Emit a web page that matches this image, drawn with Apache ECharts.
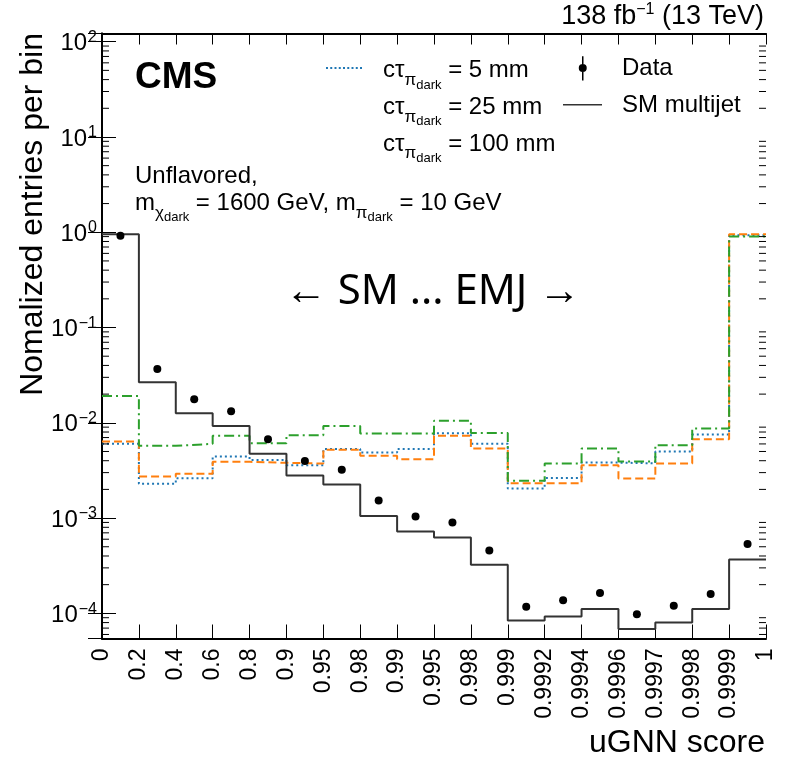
<!DOCTYPE html>
<html><head><meta charset="utf-8">
<script src="https://cdn.jsdelivr.net/npm/echarts@6/dist/echarts.min.js"></script>
<style>html,body{margin:0;padding:0;background:#fff}#c{width:785px;height:763px}</style>
</head><body><div id="c"></div>
<script>
// ---- data ----
const binEdges = ['0','0.2','0.4','0.6','0.8','0.9','0.95','0.98','0.99','0.995','0.998','0.999','0.9992','0.9994','0.9996','0.9997','0.9998','0.9999','1'];
const smMultijet = [0.95, 0.0267, 0.0126, 0.00927, 0.00472, 0.00279, 0.00225, 0.00105, 0.000721, 0.000624, 0.000323, 8.4e-5, 9.24e-5, 1.11e-4, 6.83e-5, 8.0e-5, 1.11e-4, 3.67e-4];
const dataPoints = [0.92, 0.0368, 0.0177, 0.01325, 0.00673, 0.00398, 0.00321, 0.00153, 0.00104, 0.000897, 0.000456, 1.17e-4, 1.37e-4, 1.64e-4, 9.8e-5, 1.2e-4, 1.6e-4, 5.36e-4];
const ct5mm = [0.00601, 0.00229, 0.00262, 0.00442, 0.00408, 0.00359, 0.00532, 0.00487, 0.00532, 0.00778, 0.00601, 0.00204, 0.00264, 0.00382, 0.00375, 0.00499, 0.00752, 0.93];
const ct25mm = [0.00635, 0.00273, 0.00291, 0.00389, 0.0038, 0.00373, 0.0052, 0.0045, 0.00415, 0.00729, 0.00536, 0.00232, 0.00232, 0.00359, 0.0026, 0.00375, 0.00673, 0.95];
const ct100mm = [0.0191, 0.00573, 0.00601, 0.00729, 0.0061, 0.00741, 0.00927, 0.0077, 0.0077, 0.0105, 0.00783, 0.00247, 0.00375, 0.00536, 0.00392, 0.00582, 0.00869, 0.90];
const yMin = Math.pow(10, -4.264), yMax = Math.pow(10, 2.086);

// ---- helpers ----
const FONT = 'Liberation Sans';
function stepData(arr) { const out = arr.map((v, i) => [i, v]); out.push([arr.length, arr[arr.length - 1]]); return out; }
const pointData = dataPoints.map((v, i) => [i + 0.5, v]);
const minorVals = [];
for (let n = -5; n <= 2; n++) for (let k = 2; k <= 9; k++) { const v = k * Math.pow(10, n); if (v > yMin && v < yMax) minorVals.push([0, v]); }

const richSub = {
  sp: { width: 16, fontSize: 24, lineHeight: 28, verticalAlign: 'top' },
  sp2: { width: 15, fontSize: 24, lineHeight: 28, verticalAlign: 'top' },
  m: { fontFamily: FONT, fontSize: 24, lineHeight: 28, verticalAlign: 'top', color: '#000' },
  p: { fontFamily: FONT, fontSize: 17, lineHeight: 10, padding: [13.25, 0, 0, 0], verticalAlign: 'top', color: '#000' },
  d: { fontFamily: FONT, fontSize: 13, lineHeight: 8, padding: [19.95, 0, 0, 0], verticalAlign: 'top', color: '#000' }
};
const legendText = {
  ct5: '{sp| }{m|cτ}{p|π}{d|dark}{m| = 5 mm}',
  ct25: '{sp| }{m|cτ}{p|π}{d|dark}{m| = 25 mm}',
  ct100: '{sp| }{m|cτ}{p|π}{d|dark}{m| = 100 mm}',
  data: '{sp2| }{m|Data}',
  sm: '{sp2| }{m|SM multijet}'
};
// legend icon shapes (icon box = text box; text cap centre at 11.8 from the top)
let dotted = 'path://M0,0 M36,33';
for (let x = 0; x < 36; x += 4.3) dotted += ' M' + x.toFixed(1) + ',10.8 h2 v2 h-2 Z';
const dataIcon = 'path://M0,0 M39,28 M19,0 L20.5,0 L20.5,24.3 L19,24.3 Z M23.75,11.8 A4,4 0 1 1 15.75,11.8 A4,4 0 1 1 23.75,11.8 Z';
const smIcon = 'path://M0,0 M39,28 M0,11 L39,11 L39,12.6 L0,12.6 Z';
const hidden = { opacity: 0 };

const axisLineStyle = { show: true, lineStyle: { color: '#000', width: 2 } };
const chart = echarts.init(document.getElementById('c'), null, { renderer: 'canvas' });
chart.setOption({
  animation: false,
  backgroundColor: '#fff',
  textStyle: { fontFamily: FONT },
  grid: { left: 102, top: 33.5, right: 19, bottom: 124.5, containLabel: false, outerBoundsMode: 'none' },
  legend: [
    {
      data: [{ name: 'ct5', icon: dotted }, { name: 'ct25', lineStyle: hidden, itemStyle: hidden }, { name: 'ct100', lineStyle: hidden, itemStyle: hidden }],
      orient: 'vertical', left: 325, top: 56.3, padding: 0, itemGap: 3.7, itemWidth: 36, itemHeight: 33,
      selectedMode: false, formatter: n => legendText[n], textStyle: { rich: richSub }
    },
    {
      data: [{ name: 'data', icon: dataIcon }, { name: 'sm', icon: smIcon }],
      orient: 'vertical', left: 563, top: 56.3, padding: 0, itemGap: 8.65, itemWidth: 39, itemHeight: 28,
      selectedMode: false, formatter: n => legendText[n], textStyle: { rich: richSub }
    }
  ],
  xAxis: [
    { type: 'value', min: 0, max: binEdges.length - 1, interval: 1, position: 'bottom',
      axisLine: axisLineStyle, axisTick: { inside: true, length: 14, lineStyle: { color: '#000', width: 1 } },
      axisLabel: { rotate: 90, margin: 10, fontFamily: FONT, fontSize: 23, color: '#000', formatter: v => binEdges[Math.round(v)] },
      splitLine: { show: false } },
    { type: 'value', min: 0, max: binEdges.length - 1, interval: 1, position: 'top',
      axisLine: axisLineStyle, axisTick: { inside: true, length: 11, lineStyle: { color: '#000', width: 1 } },
      axisLabel: { show: false }, splitLine: { show: false } }
  ],
  yAxis: [
    { type: 'log', logBase: 10, min: yMin, max: yMax, position: 'left',
      axisLine: axisLineStyle, axisTick: { inside: true, length: 14, lineStyle: { color: '#000', width: 1 } },
      axisLabel: { margin: 5, showMinLabel: false, showMaxLabel: false, color: '#000',
        formatter: v => { const e = Math.log10(v), r = Math.round(e); if (Math.abs(e - r) > 1e-6) return ''; return '{b|10}{s|' + (r < 0 ? '−' + (-r) : r) + '}'; },
        rich: { b: { fontFamily: FONT, fontSize: 24, lineHeight: 28, padding: [4, 0, 0, 0], verticalAlign: 'top', color: '#000' },
                s: { fontFamily: FONT, fontSize: 16, lineHeight: 10, padding: [1.8, 0, 0, 1], verticalAlign: 'top', color: '#000' } } },
      splitLine: { show: false } },
    { type: 'log', logBase: 10, min: yMin, max: yMax, position: 'right',
      axisLine: axisLineStyle, axisTick: { inside: true, length: 14, lineStyle: { color: '#000', width: 1 } },
      axisLabel: { show: false }, splitLine: { show: false } }
  ],
  series: [
    { name: 'ct5', type: 'line', step: 'end', symbol: 'none', data: stepData(ct5mm), color: '#1f77b4',
      lineStyle: { color: '#1f77b4', width: 2, type: [2, 3] }, z: 3 },
    { name: 'ct25', type: 'line', step: 'end', symbol: 'none', data: stepData(ct25mm), color: '#ff7f0e',
      lineStyle: { color: '#ff7f0e', width: 2, type: [8, 4] }, z: 4 },
    { name: 'ct100', type: 'line', step: 'end', symbol: 'none', data: stepData(ct100mm), color: '#2ca02c',
      lineStyle: { color: '#2ca02c', width: 2, type: [10, 4, 2, 4] }, z: 5 },
    { name: 'sm', type: 'line', step: 'end', symbol: 'none', data: stepData(smMultijet), color: '#333',
      lineStyle: { color: '#333', width: 2 }, z: 6 },
    { name: 'data', type: 'scatter', data: pointData, symbol: 'circle', symbolSize: 8, color: '#000',
      itemStyle: { color: '#000', opacity: 1 }, z: 7 },
    { name: 'minorTicks', type: 'custom', data: minorVals, silent: true, z: 8, clip: false,
      renderItem: (params, api) => {
        const v = api.value(1);
        const pl = api.coord([0, v]); const pr = api.coord([binEdges.length - 1, v]);
        return { type: 'group', children: [
          { type: 'line', shape: { x1: pl[0], y1: pl[1], x2: pl[0] + 7, y2: pl[1] }, style: { stroke: '#000', lineWidth: 1 } },
          { type: 'line', shape: { x1: pr[0] - 7, y1: pr[1], x2: pr[0], y2: pr[1] }, style: { stroke: '#000', lineWidth: 1 } }
        ] };
      } }
  ],
  graphic: [
    { type: 'text', x: 135, y: 78, style: { text: 'CMS', fontFamily: FONT, fontWeight: 'bold', fontSize: 37, fill: '#000', align: 'left', verticalAlign: 'middle' } },
    { type: 'text', x: 764, y: 0.05, style: { text: '{a|138 fb}{s|−1}{a| (13 TeV)}', align: 'right', verticalAlign: 'top',
        rich: { a: { fontFamily: FONT, fontSize: 27, lineHeight: 30, padding: [3, 0, 0, 0], verticalAlign: 'top', color: '#000' },
                s: { fontFamily: FONT, fontSize: 16, lineHeight: 10, padding: [1.35, 0, 0, 0], verticalAlign: 'top', color: '#000' } } } },
    { type: 'text', x: 135, y: 164.6, style: { text: '{m|Unflavored,}', align: 'left', verticalAlign: 'top', rich: richSub } },
    { type: 'text', x: 135, y: 191.3, style: { text: '{m|m}{p|χ}{d|dark}{m| = 1600 GeV, m}{p|π}{d|dark}{m| = 10 GeV}', align: 'left', verticalAlign: 'top', rich: richSub } },
    { type: 'text', x: 432.5, y: 291.7, style: { text: '{k|← SM ... }{g|EMJ →}', align: 'center', verticalAlign: 'middle',
        rich: { k: { fontFamily: 'Noto Sans', fontSize: 42, color: '#000' }, g: { fontFamily: 'Noto Sans', fontSize: 42, color: '#1b8a5a' } } } },
    { type: 'text', x: 765, y: 742.8, style: { text: 'uGNN score', fontFamily: FONT, fontSize: 32, fill: '#000', align: 'right', verticalAlign: 'middle' } },
    { type: 'text', x: 33, y: 33, rotation: Math.PI / 2, style: { text: 'Nomalized entries per bin', fontFamily: FONT, fontSize: 32, fill: '#000', align: 'right', verticalAlign: 'middle' } }
  ]
});
</script></body></html>
